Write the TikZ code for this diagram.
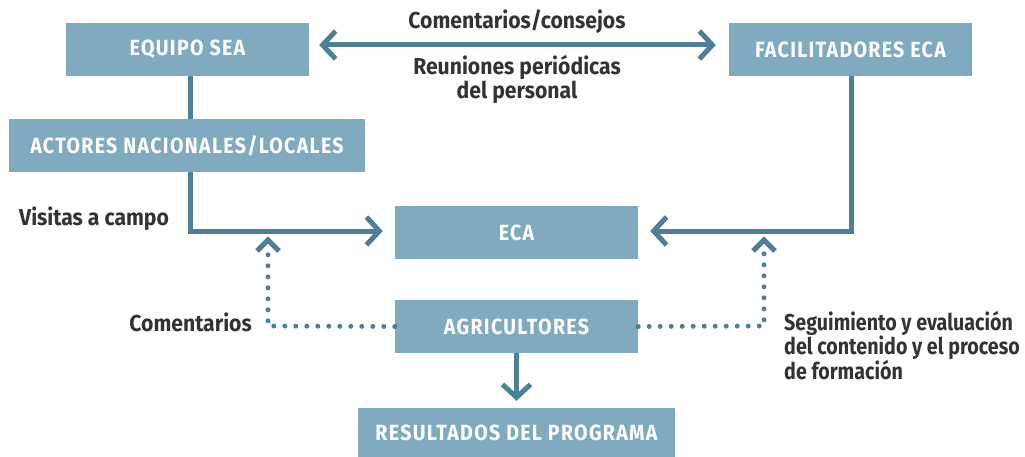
\documentclass[tikz,border=0pt]{standalone}
\usepackage{fontspec}
\usetikzlibrary{arrows.meta}
\newfontfamily\labf[FakeStretch=0.92]{Fira Sans}
\newfontfamily\labnf[FakeStretch=0.855]{Fira Sans}
\newfontfamily\boxf[FakeStretch=0.89,LetterSpace=6]{Fira Sans}
\definecolor{boxfill}{HTML}{7FAABF}
\definecolor{linec}{HTML}{4E7F96}
\definecolor{txt}{HTML}{333333}
\tikzset{
  blk/.style={fill=boxfill, draw=none, text=white, inner sep=0pt, minimum height=53pt,
    font=\boxf\bfseries\fontsize{22}{26}\selectfont},
  lbl/.style={text=txt, inner sep=0pt, font=\labf\bfseries\fontsize{23}{24}\selectfont},
  lbln/.style={lbl, font=\labnf\bfseries\fontsize{23}{24}\selectfont},
  conn/.style={draw=linec, line width=5pt},
  tip/.style={-{Straight Barb[length=13pt,width=28pt]}},
  dots/.style={draw=linec, line width=5pt, line cap=round, dash pattern=on 0pt off 11pt},
}
\begin{document}
\begin{tikzpicture}[x=1pt,y=-1pt]
\useasboundingbox (0,0) rectangle (1025,457);
\node[blk, minimum width=243pt] (sea) at (187.5,49.5) {EQUIPO SEA};
\node[blk, minimum width=243pt] (fac) at (850.5,49.5) {FACILITADORES ECA};
\node[blk, minimum width=356pt] (act) at (187,145.5) {ACTORES NACIONALES/LOCALES};
\node[blk, minimum width=243pt] (eca) at (516.5,232.5) {ECA};
\node[blk, minimum width=243pt] (agr) at (516.5,326.5) {AGRICULTORES};
\node[blk, minimum width=317pt, minimum height=50pt] (res) at (516.5,433) {RESULTADOS DEL PROGRAMA};

\node[lbl] (l1) at (517,22) {Comentarios/consejos};
\node[lbl, align=center] (l2) at (517,79) {Reuniones periódicas\\del personal};
\node[lbl, anchor=west] (l3) at (19,219) {Visitas a campo};
\node[lbl, anchor=east] (l4) at (252,322) {Comentarios};
\node[lbln, anchor=north west, align=left] (l5) at (784,311) {Seguimiento y evaluación\\del contenido y el proceso\\de formación};

\coordinate (ac) at (190,231);
\coordinate (fc) at (851,231);
\coordinate (dl) at (268,326);
\coordinate (dr) at (764,326);
\coordinate (tl) at (268,240);
\coordinate (tr) at (764,240);

% double arrow
\draw[conn, {Straight Barb[length=13pt,width=28pt]}-{Straight Barb[length=13pt,width=28pt]}]
  ([xshift=10pt,yshift=4.5pt]sea.east) -- ([xshift=-13pt,yshift=4.5pt]fac.west);
% sea - actores
\draw[conn] (sea.south -| ac) -- (act.north -| ac);
% actores - eca
\draw[conn, tip] (act.south -| ac) -- (ac) -- ([xshift=-12pt,yshift=1.5pt]eca.west);
% fac - eca
\draw[conn, tip] (fac.south -| fc) -- (fc) -- ([xshift=12pt,yshift=1.5pt]eca.east);
% dotted feedback
\draw[dots] (agr.west) -- (dl) -- ([yshift=-8pt]tl);
\draw[linec, line width=5pt] ([shift={(-11pt,-11pt)}]tl) -- (tl) -- ([shift={(11pt,-11pt)}]tl);
\draw[dots] (agr.east) -- (dr) -- ([yshift=-8pt]tr);
\draw[linec, line width=5pt] ([shift={(-11pt,-11pt)}]tr) -- (tr) -- ([shift={(11pt,-11pt)}]tr);
% agricultores - resultados
\draw[conn, tip] (agr.south) -- ([yshift=7pt]res.north);
\end{tikzpicture}
\end{document}
